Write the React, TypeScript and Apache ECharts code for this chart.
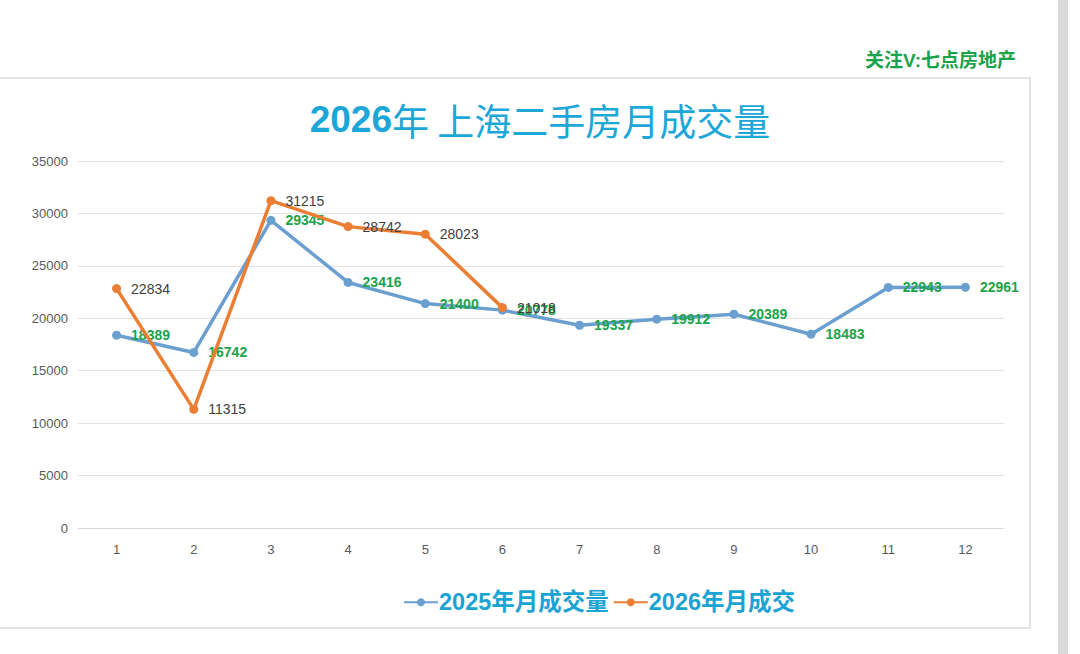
import React, { useEffect, useRef } from "react";
import * as echarts from "echarts";

const months = ["1", "2", "3", "4", "5", "6", "7", "8", "9", "10", "11", "12"];
const sales2025 = [18389, 16742, 29345, 23416, 21400, 20778, 19337, 19912, 20389, 18483, 22943, 22961];
const sales2026 = [22834, 11315, 31215, 28742, 28023, 21018];
const seriesNames = ["2025年月成交量", "2026年月成交"];
const titleYear = "2026";
const titleRest = "年 上海二手房月成交量";
const watermark = "关注V:七点房地产";

export default function App() {
  const ref = useRef<HTMLDivElement>(null);
  useEffect(() => {
    if (!ref.current) return;
    const chart = echarts.init(ref.current, null, { renderer: "svg" });
    const font = "'Liberation Sans', Arial, 'Noto Sans CJK SC', sans-serif";
    chart.setOption({
      animation: false,
      backgroundColor: "#ffffff",
      textStyle: { fontFamily: font },
      graphic: [
        {
          type: "rect",
          shape: { x: -5, y: 78, width: 1035, height: 550 },
          style: { fill: "#ffffff", stroke: "#dcdcdc", lineWidth: 1.5 },
          z: -10,
        },
        {
          type: "rect",
          shape: { x: 1058, y: 0, width: 10, height: 654 },
          style: { fill: "#d9d9d9" },
          z: -10,
        },
        {
          type: "text",
          x: 1016,
          y: 60,
          style: {
            text: watermark,
            fill: "#1aa34a",
            font: `bold 19px ${font}`,
            textAlign: "right",
            textVerticalAlign: "middle",
          },
        },
      ],
      title: {
        text: `{a|${titleYear}}{b|${titleRest}}`,
        left: "center",
        top: 96,
        textStyle: {
          rich: {
            a: { fontSize: 37, fontWeight: "bold", color: "#1da6d8", fontFamily: font },
            b: { fontSize: 37, fontWeight: "normal", color: "#1da6d8", fontFamily: "'Noto Sans CJK SC', sans-serif" },
          },
        },
      },
      legend: {
        bottom: 35,
        left: 398,
        itemWidth: 34,
        itemHeight: 10,
        itemGap: 4,
        textStyle: {
          fontSize: 23.5,
          fontWeight: "bold",
          color: "#1ba3d3",
          fontFamily: font,
          padding: [0, 0, 0, -4],
        },
        data: seriesNames,
      },
      grid: { left: 78, right: 76, top: 161, bottom: 126 },
      xAxis: {
        type: "category",
        data: months,
        boundaryGap: true,
        axisLine: { lineStyle: { color: "#d9d9d9" } },
        axisTick: { show: false },
        axisLabel: { color: "#595959", fontSize: 13, margin: 15 },
      },
      yAxis: {
        type: "value",
        min: 0,
        max: 35000,
        interval: 5000,
        axisLine: { show: false },
        axisTick: { show: false },
        axisLabel: { color: "#595959", fontSize: 13, margin: 10, formatter: (v: number) => String(v) },
        splitLine: { lineStyle: { color: "#e3e3e3" } },
      },
      series: [
        {
          name: seriesNames[0],
          type: "line",
          data: sales2025,
          symbol: "circle",
          symbolSize: 9,
          lineStyle: { width: 3.5, color: "#6a9fcf" },
          itemStyle: { color: "#6a9fcf" },
          label: {
            show: true,
            position: "right",
            distance: 10,
            color: "#1aa34a",
            fontWeight: "bold",
            fontSize: 14,
          },
          z: 2,
        },
        {
          name: seriesNames[1],
          type: "line",
          data: sales2026,
          symbol: "circle",
          symbolSize: 9,
          lineStyle: { width: 3.5, color: "#ec7e33" },
          itemStyle: { color: "#ec7e33" },
          label: {
            show: true,
            position: "right",
            distance: 10,
            color: "#404040",
            fontSize: 14,
          },
          z: 3,
        },
      ],
    });
    return () => chart.dispose();
  }, []);
  return (
    <div
      ref={ref}
      style={{ position: "fixed", left: 0, top: 0, width: 1080, height: 654 }}
    />
  );
}
